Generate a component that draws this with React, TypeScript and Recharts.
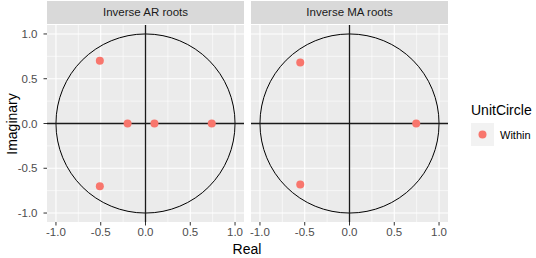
import React from 'react';
import { ScatterChart, Scatter, XAxis, YAxis, CartesianGrid, ReferenceLine, ReferenceArea } from 'recharts';

const arRe = [-0.51, -0.51, -0.2, 0.1, 0.74];
const arIm = [0.7, -0.7, 0, 0, 0];
const maRe = [-0.55, -0.55, 0.745];
const maIm = [0.68, -0.68, 0];

const ticks = [-1, -0.5, 0, 0.5, 1];
const minorTicks = [-0.75, -0.25, 0.25, 0.75];
const tickLabels = ['-1.0', '-0.5', '0.0', '0.5', '1.0'];
const panelTitles = ['Inverse AR roots', 'Inverse MA roots'];
const legendTitle = 'UnitCircle';
const legendLabel = 'Within';

const FONT = '"Liberation Sans", Arial, sans-serif';
const POINT = '#F8766D';

const toPoints = (re: number[], im: number[]) => re.map((x, i) => ({ x, y: im[i] }));
const fmt = (v: number) => tickLabels[ticks.indexOf(v)] ?? v.toFixed(1);

const tickStyle = { fill: '#4D4D4D', fontSize: 11.5, fontFamily: FONT };

const UnitCircle = (p: any) => (
    <ellipse
        cx={p.x + p.width / 2}
        cy={p.y + p.height / 2}
        rx={p.width / 2}
        ry={p.height / 2}
        fill="none"
        stroke="#000"
        strokeWidth={1}
    />
);

const Dot = (p: any) => <circle cx={p.cx} cy={p.cy} r={4} fill={POINT} />;

const Panel: React.FC<{ data: { x: number; y: number }[]; showY: boolean; width: number; right: number; left: number }> = ({ data, showY, width, right, left }) => (
    <ScatterChart width={width} height={258} margin={{ top: 25, right, bottom: 16, left }}>
        <CartesianGrid fill="#EBEBEB" stroke="#FFFFFF" strokeWidth={0.6} horizontalValues={minorTicks} verticalValues={minorTicks} />
        <CartesianGrid stroke="#FFFFFF" strokeWidth={1.1} horizontalValues={ticks} verticalValues={ticks} />
        <XAxis
            type="number"
            dataKey="x"
            domain={[-1.1, 1.1]}
            ticks={ticks}
            tickFormatter={fmt}
            allowDataOverflow
            axisLine={false}
            tickSize={3.5}
            tickLine={{ stroke: '#333333' }}
            tick={tickStyle}
            height={20}
            interval={0}
        />
        <YAxis
            type="number"
            dataKey="y"
            domain={[-1.1, 1.1]}
            ticks={ticks}
            tickFormatter={fmt}
            allowDataOverflow
            axisLine={false}
            tickSize={3.5}
            tickMargin={6}
            tickLine={{ stroke: '#333333' }}
            tick={tickStyle}
            width={showY ? 47 : 0}
            hide={!showY}
            interval={0}
        />
        <ReferenceArea x1={-1} x2={1} y1={-1} y2={1} shape={UnitCircle} ifOverflow="visible" />
        <ReferenceLine x={0} stroke="#1A1A1A" strokeWidth={1.3} />
        <ReferenceLine y={0} stroke="#1A1A1A" strokeWidth={1.3} />
        <Scatter data={data} shape={Dot} isAnimationActive={false} />
    </ScatterChart>
);

const Strip: React.FC<{ left: number; title: string }> = ({ left, title }) => (
    <div
        style={{
            position: 'absolute', left, top: 1, width: 197, height: 23,
            background: '#D9D9D9', color: '#1A1A1A', fontSize: 11.5,
            lineHeight: '23px', textAlign: 'center', fontFamily: FONT,
        }}
    >
        {title}
    </div>
);

const App: React.FC = () => {
    return (
        <div style={{ position: 'absolute', left: 0, top: 0, width: 536, height: 258, background: '#fff', fontFamily: FONT }}>
            <div style={{ position: 'absolute', left: 0, top: 0 }}>
                <Panel data={toPoints(arRe, arIm)} showY width={250} left={0} right={6} />
            </div>
            <div style={{ position: 'absolute', left: 250, top: 0 }}>
                <Panel data={toPoints(maRe, maIm)} showY={false} width={286} left={1} right={88} />
            </div>
            <Strip left={47} title={panelTitles[0]} />
            <Strip left={251} title={panelTitles[1]} />
            <div
                style={{
                    position: 'absolute', left: 12 - 60, top: 124 - 9, width: 120, height: 18,
                    transform: 'rotate(-90deg)', textAlign: 'center', fontSize: 14, color: '#000', lineHeight: '18px',
                }}
            >
                Imaginary
            </div>
            <div style={{ position: 'absolute', left: 197, top: 240, width: 100, textAlign: 'center', fontSize: 14, lineHeight: '18px' }}>
                Real
            </div>
            <div style={{ position: 'absolute', left: 471, top: 102, fontSize: 14, lineHeight: '16px', color: '#000' }}>{legendTitle}</div>
            <div style={{ position: 'absolute', left: 471, top: 123, width: 23, height: 23, background: '#F2F2F2' }}>
                <svg width={23} height={23}>
                    <circle cx={11.5} cy={11.5} r={4} fill={POINT} />
                </svg>
            </div>
            <div style={{ position: 'absolute', left: 500, top: 127, fontSize: 11, lineHeight: '16px', color: '#000' }}>{legendLabel}</div>
        </div>
    );
};

export default App;
